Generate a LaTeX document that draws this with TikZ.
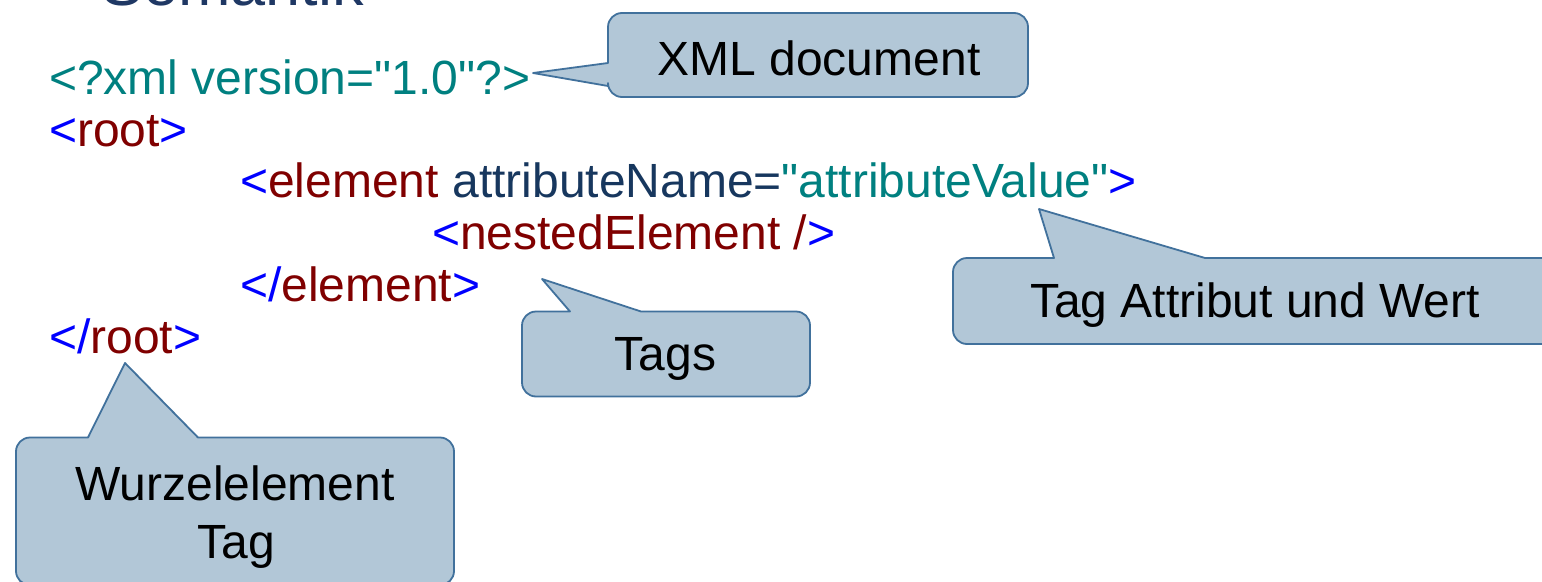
\documentclass[tikz,border=0pt]{standalone}
\usepackage{fontspec}
\setmainfont{Liberation Sans}[Ligatures=TeXOff]
\definecolor{xmlteal}{HTML}{008080}
\definecolor{xmlblue}{HTML}{0000FF}
\definecolor{xmlred}{HTML}{800000}
\definecolor{xmlnavy}{HTML}{17375E}
\definecolor{titlenavy}{HTML}{1F3864}
\definecolor{calloutfill}{HTML}{B2C7D7}
\definecolor{calloutline}{HTML}{41719C}
\begin{document}
\begin{tikzpicture}[x=1pt,y=-1pt,
  codeline/.style={anchor=base west,inner sep=0pt,font=\fontsize{48}{54}\selectfont},
  callout/.style={fill=calloutfill,draw=calloutline,line width=1.8pt,line join=round},
  callouttext/.style={anchor=base,inner sep=0pt,font=\fontsize{48}{54}\selectfont}]
\useasboundingbox (0,0) rectangle (1542,581);
\clip (0,0) rectangle (1542,581);
\fill[white] (0,0) rectangle (1542,581);

% slide title, mostly above the visible area
\node[anchor=base west,inner sep=0pt,text=titlenavy,font=\fontsize{63}{70}\selectfont]
  (title) at (101,5) {Semantik};

% the XML listing
\node[codeline,text=xmlteal] (decl) at (49,94.3) {<?xml version="1.0"?>};
\node[codeline] (rootopen) at (49,146)
  {\textcolor{xmlblue}{<}\textcolor{xmlred}{root}\textcolor{xmlblue}{>}};
\node[codeline] (elemopen) at (240,197.8)
  {\textcolor{xmlblue}{<}\textcolor{xmlred}{element} \textcolor{xmlnavy}{attributeName=}\textcolor{xmlteal}{"attributeValue"}\textcolor{xmlblue}{>}};
\node[codeline] (nested) at (432,249.5)
  {\textcolor{xmlblue}{<}\textcolor{xmlred}{nestedElement /}\textcolor{xmlblue}{>}};
\node[codeline] (elemclose) at (240,301.3)
  {\textcolor{xmlblue}{</}\textcolor{xmlred}{element}\textcolor{xmlblue}{>}};
\node[codeline] (rootclose) at (49,353)
  {\textcolor{xmlblue}{</}\textcolor{xmlred}{root}\textcolor{xmlblue}{>}};

% callout: XML document (pointer on the left side)
\draw[callout] (533,73) -- (608,86) [rounded corners=14pt] -- (608,97)
  -- (1028,97) -- (1028,13) -- (608,13) [sharp corners] -- (608,63) -- cycle;
\node[callouttext] (cxml) at (819,75) {XML document};

% callout: Tags (pointer on the top side)
\draw[callout] (542,279) -- (641,311.5) [rounded corners=14pt] -- (810,311.5)
  -- (810,396.5) -- (522,396.5) -- (522,311.5) [sharp corners] -- (570,311.5) -- cycle;
\node[callouttext] (ctags) at (665.5,370) {Tags};

% callout: Tag Attribut und Wert (runs past the right edge)
\draw[callout] (1039,209) -- (1205,258) [rounded corners=14pt] -- (1570,258)
  -- (1570,344) -- (953,344) -- (953,258) [sharp corners] -- (1054,258) -- cycle;
\node[callouttext] (cattr) at (1255,317) {Tag Attribut und Wert};

% callout: Wurzelelement Tag (runs past the bottom edge)
\draw[callout] (125,363) -- (198,437.5) [rounded corners=14pt] -- (454,437.5)
  -- (454,585) -- (16,585) -- (16,437.5) [sharp corners] -- (88,437.5) -- cycle;
\node[callouttext] (croot1) at (235,500.7) {Wurzelelement};
\node[callouttext] (croot2) at (236,558) {Tag};
\end{tikzpicture}
\end{document}
